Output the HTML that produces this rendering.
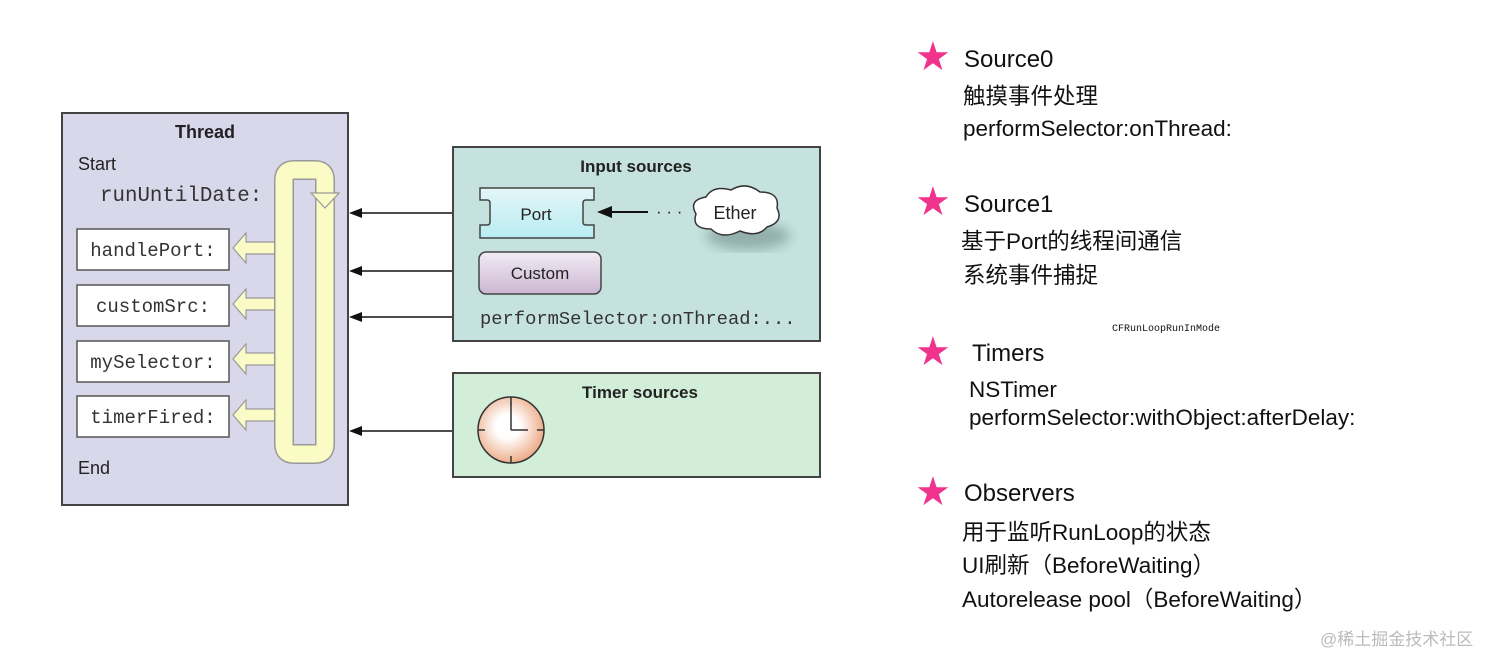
<!DOCTYPE html>
<html><head><meta charset="utf-8"><style>
html,body{margin:0;padding:0;background:#fff;width:1512px;height:670px;overflow:hidden}
svg{position:absolute;left:0;top:0}
.t{position:absolute;font-family:"Liberation Sans","Noto Sans CJK SC",sans-serif;color:#111;white-space:nowrap;line-height:28px}
.h{font-size:24px}.s{font-size:22.5px}
.star{position:absolute;color:#f0348e;font-size:40px;line-height:40px;font-family:"DejaVu Sans",sans-serif}
</style></head><body>
<svg width="1512" height="670" viewBox="0 0 1512 670">
<defs>
<linearGradient id="pg" x1="0" y1="0" x2="0" y2="1"><stop offset="0" stop-color="#e4f6f8"/><stop offset="1" stop-color="#b8ecf2"/></linearGradient>
<linearGradient id="cg" x1="0" y1="0" x2="0" y2="1"><stop offset="0" stop-color="#f2ecf4"/><stop offset="1" stop-color="#cbb6d2"/></linearGradient>
<radialGradient id="clk" cx="0.45" cy="0.45" r="0.6"><stop offset="0.3" stop-color="#fff"/><stop offset="1" stop-color="#eaa27a"/></radialGradient>
<filter id="bl"><feGaussianBlur stdDeviation="6"/></filter>
</defs>
<!-- Thread -->
<rect x="62" y="113" width="286" height="392" fill="#d8d8ea" stroke="#444" stroke-width="2"/>
<text x="205" y="138" text-anchor="middle" font-family="Liberation Sans" font-weight="bold" font-size="18" fill="#222">Thread</text>
<text x="78" y="170" font-family="Liberation Sans" font-size="18" fill="#222">Start</text>
<text x="100" y="201" font-family="Liberation Mono" font-size="20.8" fill="#333">runUntilDate:</text>
<text x="78" y="474" font-family="Liberation Sans" font-size="18" fill="#222">End</text>
<g font-family="Liberation Mono" font-size="19" fill="#333" text-anchor="middle">
<rect x="77" y="229" width="152" height="41" fill="#fff" stroke="#555" stroke-width="1.5"/><text x="153" y="256">handlePort:</text>
<rect x="77" y="285" width="152" height="41" fill="#fff" stroke="#555" stroke-width="1.5"/><text x="153" y="312">customSrc:</text>
<rect x="77" y="341" width="152" height="41" fill="#fff" stroke="#555" stroke-width="1.5"/><text x="153" y="368">mySelector:</text>
<rect x="77" y="396" width="152" height="41" fill="#fff" stroke="#555" stroke-width="1.5"/><text x="153" y="423">timerFired:</text>
</g>
<!-- yellow loop -->
<g fill="#fbfbc6" stroke="#999" stroke-width="1.2">
<path d="M275,242 L246,242 L246,233 L233,248 L246,263 L246,254 L275,254 Z"/>
<path d="M275,298 L246,298 L246,289 L233,304 L246,319 L246,310 L275,310 Z"/>
<path d="M275,353 L246,353 L246,344 L233,359 L246,374 L246,365 L275,365 Z"/>
<path d="M275,409 L246,409 L246,400 L233,415 L246,430 L246,421 L275,421 Z"/>
</g>
<path d="M284,180 Q284,170 294,170 L315,170 Q325,170 325,180 L325,444 Q325,454 315,454 L294,454 Q284,454 284,444 Z" fill="none" stroke="#999" stroke-width="20"/>
<path d="M284,180 Q284,170 294,170 L315,170 Q325,170 325,180 L325,444 Q325,454 315,454 L294,454 Q284,454 284,444 Z" fill="none" stroke="#fbfbc6" stroke-width="17"/>
<polygon points="311,193 339,193 325,208" fill="#fbfbc6" stroke="#999" stroke-width="1.2"/>
<!-- arrows -->
<g stroke="#111" stroke-width="1.5">
<line x1="453" y1="213" x2="360" y2="213"/><line x1="453" y1="271" x2="360" y2="271"/><line x1="453" y1="317" x2="360" y2="317"/><line x1="453" y1="431" x2="360" y2="431"/>
</g>
<g fill="#111">
<polygon points="349,213 362,208 362,218"/><polygon points="349,271 362,266 362,276"/><polygon points="349,317 362,312 362,322"/><polygon points="349,431 362,426 362,436"/>
</g>
<!-- Input sources -->
<rect x="453" y="147" width="367" height="194" fill="#c6e2de" stroke="#444" stroke-width="2"/>
<text x="636" y="172" text-anchor="middle" font-family="Liberation Sans" font-weight="bold" font-size="17" fill="#222">Input sources</text>
<path d="M480,188 L594,188 L594,200 L586,200 Q583,200 583,203 L583,222 Q583,225 586,225 L594,225 L594,238 L480,238 L480,225 L487,225 Q490,225 490,222 L490,203 Q490,200 487,200 L480,200 Z" fill="url(#pg)" stroke="#444" stroke-width="1.5"/>
<text x="536" y="220" text-anchor="middle" font-family="Liberation Sans" font-size="17" fill="#222">Port</text>
<line x1="605" y1="212" x2="648" y2="212" stroke="#111" stroke-width="2"/><polygon points="597,212 612,206 612,218" fill="#111"/>
<text x="656" y="217" font-family="Liberation Sans" font-size="17" fill="#222">· · ·</text>
<ellipse cx="748" cy="236" rx="42" ry="14" fill="#7d9a98" filter="url(#bl)" opacity="0.7"/>
<path d="M696,214 Q688,200 706,197 Q713,185 731,190 Q746,181 760,192 Q780,192 777,208 Q784,222 767,227 Q758,238 740,231 Q722,240 711,229 Q691,229 696,214 Z" fill="#fff" stroke="#333" stroke-width="1.5"/>
<text x="735" y="219" text-anchor="middle" font-family="Liberation Sans" font-size="18" fill="#222">Ether</text>
<rect x="479" y="252" width="122" height="42" rx="7" fill="url(#cg)" stroke="#444" stroke-width="1.5"/>
<text x="540" y="279" text-anchor="middle" font-family="Liberation Sans" font-size="17" fill="#222">Custom</text>
<text x="480" y="324" font-family="Liberation Mono" font-size="18.8" fill="#333">performSelector:onThread:...</text>
<!-- Timer sources -->
<rect x="453" y="373" width="367" height="104" fill="#d2eed9" stroke="#444" stroke-width="2"/>
<text x="640" y="398" text-anchor="middle" font-family="Liberation Sans" font-weight="bold" font-size="17" fill="#222">Timer sources</text>
<circle cx="511" cy="430" r="33" fill="url(#clk)" stroke="#333" stroke-width="1.5"/>
<g stroke="#333" stroke-width="1.5"><line x1="511" y1="397" x2="511" y2="404"/><line x1="511" y1="456" x2="511" y2="463"/><line x1="478" y1="430" x2="485" y2="430"/><line x1="537" y1="430" x2="544" y2="430"/>
<line x1="511" y1="430" x2="511" y2="403"/><line x1="511" y1="430" x2="528" y2="430"/></g>
</svg>
<div class="star" style="left:915px;top:37px">★</div>
<div class="t h" style="left:964px;top:46px">Source0</div>
<div class="t s" style="left:963px;top:83px">触摸事件处理</div>
<div class="t s" style="left:963px;top:115px">performSelector:onThread:</div>
<div class="star" style="left:915px;top:182px">★</div>
<div class="t h" style="left:964px;top:191px">Source1</div>
<div class="t s" style="left:961px;top:228px">基于Port的线程间通信</div>
<div class="t s" style="left:963px;top:262px">系统事件捕捉</div>
<div class="t" style="left:1112px;top:316px;font-family:'Liberation Mono',monospace;font-size:10px">CFRunLoopRunInMode</div>
<div class="star" style="left:915px;top:332px">★</div>
<div class="t h" style="left:972px;top:340px">Timers</div>
<div class="t s" style="left:969px;top:376px">NSTimer</div>
<div class="t s" style="left:969px;top:404px">performSelector:withObject:afterDelay:</div>
<div class="star" style="left:915px;top:472px">★</div>
<div class="t h" style="left:964px;top:480px">Observers</div>
<div class="t s" style="left:962px;top:519px">用于监听RunLoop的状态</div>
<div class="t s" style="left:962px;top:552px">UI刷新（BeforeWaiting）</div>
<div class="t s" style="left:962px;top:586px">Autorelease pool（BeforeWaiting）</div>
<div class="t" style="left:1320px;top:626px;font-size:17px;color:#bbb">@稀土掘金技术社区</div>
</body></html>
